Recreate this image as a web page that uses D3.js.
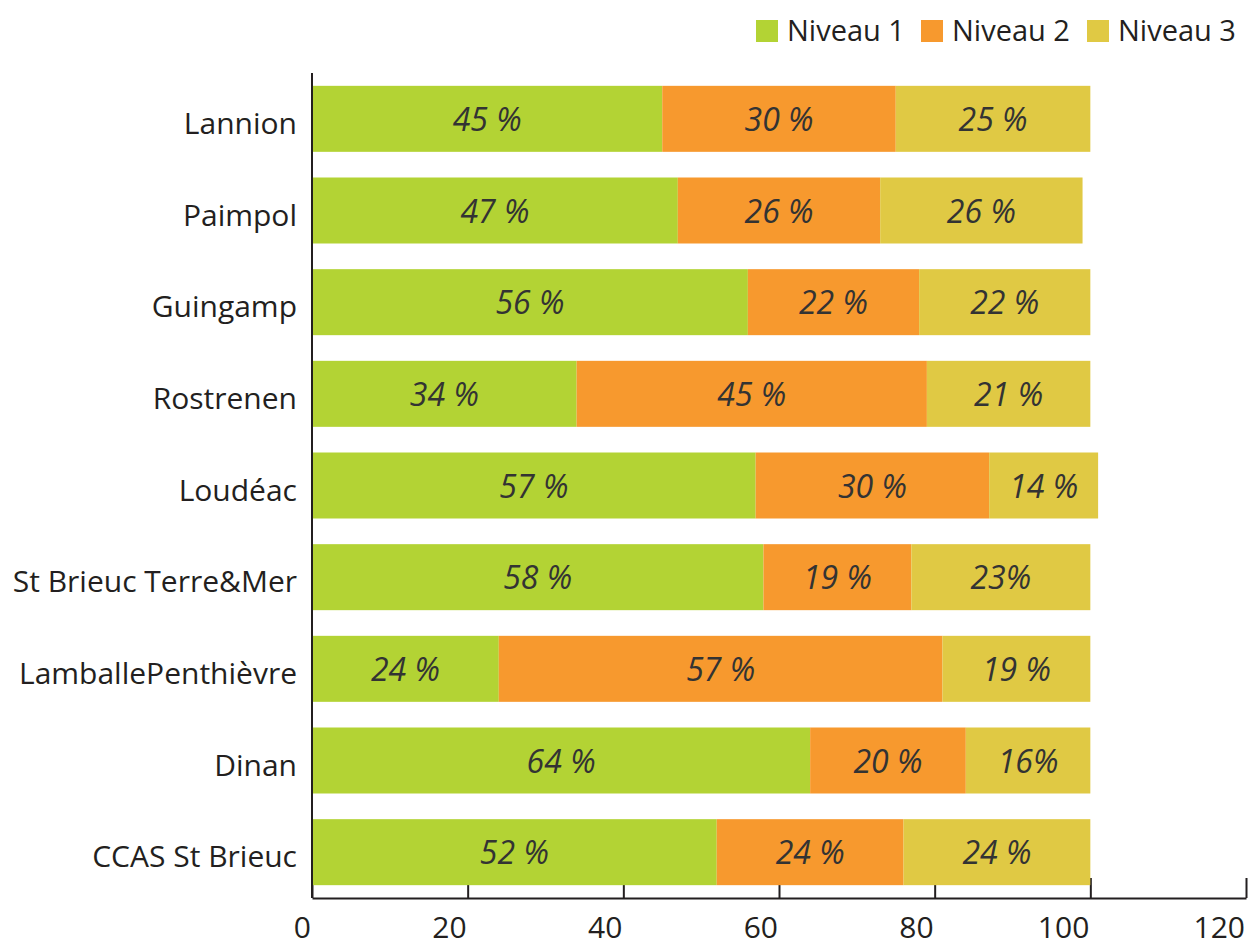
<!DOCTYPE html>
<html>
<head>
<meta charset="utf-8">
<script src="https://cdn.jsdelivr.net/npm/d3@7"></script>
<style>
  body { margin: 0; background: #fff; }
  text { font-family: "Open Sans", "Noto Sans", sans-serif; fill: #231f20; }
</style>
</head>
<body>
<div id="chart"></div>
<script>
const categories = ["Lannion", "Paimpol", "Guingamp", "Rostrenen", "Loudéac", "St Brieuc Terre&Mer", "LamballePenthièvre", "Dinan", "CCAS St Brieuc"]
const series = ["Niveau 1", "Niveau 2", "Niveau 3"]
const niveau1 = [45, 47, 56, 34, 57, 58, 24, 64, 52]
const niveau2 = [30, 26, 22, 45, 30, 19, 57, 20, 24]
const niveau3 = [25, 26, 22, 21, 14, 23, 19, 16, 24]
const labels1 = ["45 %", "47 %", "56 %", "34 %", "57 %", "58 %", "24 %", "64 %", "52 %"]
const labels2 = ["30 %", "26 %", "22 %", "45 %", "30 %", "19 %", "57 %", "20 %", "24 %"]
const labels3 = ["25 %", "26 %", "22 %", "21 %", "14 %", "23%", "19 %", "16%", "24 %"]
const xTicks = [0, 20, 40, 60, 80, 100, 120]
const colors = ["#b3d334", "#f7992e", "#e0c944"]

const width = 1248, height = 947

const svg = d3.select("#chart").append("svg").attr("width", width).attr("height", height)

const x = d3.scaleLinear().domain([0, 120]).range([312, 1246])
const y = d3.scaleBand().domain(categories).range([73, 898]).paddingInner(0.28).paddingOuter(0.14)

// build rows for stacking
const rows = categories.map((c, i) => ({ cat: c, "Niveau 1": niveau1[i], "Niveau 2": niveau2[i], "Niveau 3": niveau3[i] }))
const allLabels = [labels1, labels2, labels3]
const stacked = d3.stack().keys(series)(rows)

// x axis (inner ticks, labels end at tick)
const xAxis = svg.append("g")
    .attr("transform", `translate(0,898)`)
    .call(d3.axisBottom(x).tickValues(xTicks).tickSizeInner(-20).tickSizeOuter(0).tickPadding(0))
xAxis.select(".domain").attr("stroke", "#231f20").attr("stroke-width", 2)
xAxis.selectAll(".tick line").attr("stroke", "#231f20").attr("stroke-width", 2)
xAxis.selectAll(".tick text").remove()
svg.append("g").selectAll("text")
    .data(xTicks)
    .join("text")
    .attr("x", d => x(d) - 1)
    .attr("y", 938)
    .attr("text-anchor", "end")
    .attr("font-size", 30)
    .text(d => d)

// bars
const layers = svg.append("g").selectAll("g")
    .data(stacked)
    .join("g")
    .attr("fill", (d, i) => colors[i])

layers.selectAll("rect")
    .data(d => d)
    .join("rect")
    .attr("x", d => x(d[0]))
    .attr("y", d => y(d.data.cat))
    .attr("width", d => x(d[1]) - x(d[0]))
    .attr("height", y.bandwidth())

// value labels
stacked.forEach((layer, li) => {
    svg.append("g").selectAll("text")
        .data(layer)
        .join("text")
        .attr("x", d => (x(d[0]) + x(d[1])) / 2)
        .attr("y", d => y(d.data.cat) + y.bandwidth() / 2 + 12)
        .attr("text-anchor", "middle")
        .attr("font-size", 32)
        .attr("font-style", "italic")
        .style("fill", "#333")
        .text((d, i) => allLabels[li][i])
})

// y axis
svg.append("line")
    .attr("x1", x(0)).attr("x2", x(0))
    .attr("y1", 73).attr("y2", 898)
    .attr("stroke", "#231f20").attr("stroke-width", 2)

svg.append("g").selectAll("text")
    .data(categories)
    .join("text")
    .attr("x", 297)
    .attr("y", d => y(d) + y.bandwidth() / 2 + 15)
    .attr("text-anchor", "end")
    .attr("font-size", 30)
    .text(d => d)

// legend
const legendX = [756, 921, 1087]
const legend = svg.append("g").selectAll("g")
    .data(series)
    .join("g")
    .attr("transform", (d, i) => `translate(${legendX[i]},20)`)
legend.append("rect")
    .attr("width", 22).attr("height", 22)
    .attr("fill", (d, i) => colors[i])
legend.append("text")
    .attr("x", 31).attr("y", 21)
    .attr("font-size", 29)
    .text(d => d)
</script>
</body>
</html>
